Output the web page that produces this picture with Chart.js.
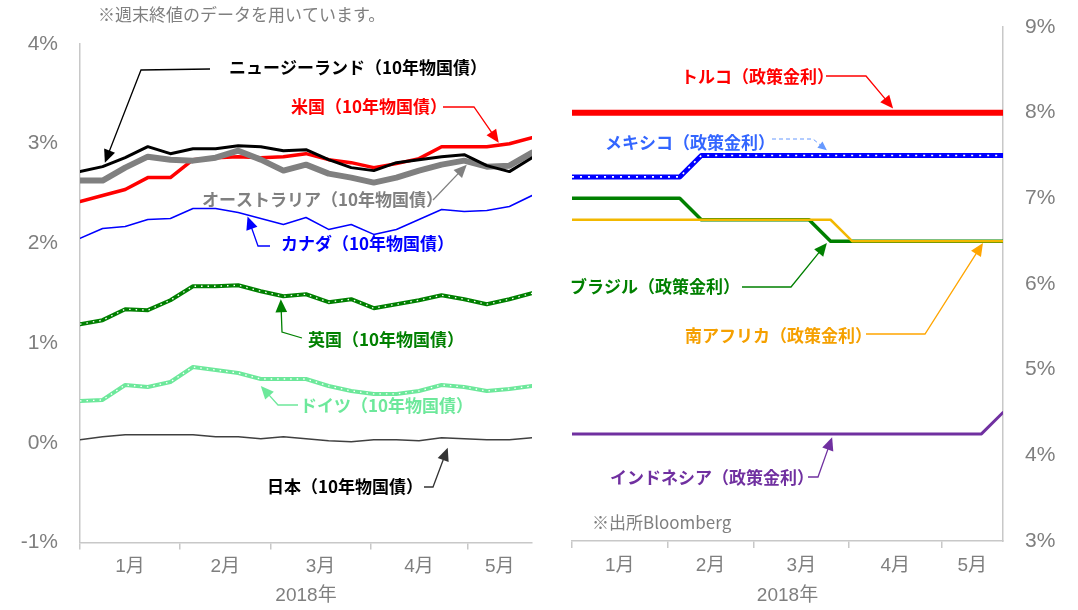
<!DOCTYPE html>
<html>
<head>
<meta charset="utf-8">
<script src="https://cdn.jsdelivr.net/npm/chart.js@4/dist/chart.umd.min.js"></script>
<style>
  body { margin: 0; background: #fff; }
  #wrap { position: relative; width: 1078px; height: 610px; }
  #wrap canvas { position: absolute; left: 0; top: 0; }
</style>
</head>
<body>
<div id="wrap">
  <canvas id="bondChart" width="1078" height="610"></canvas>
  <canvas id="rateChart" width="1078" height="610"></canvas>
</div>
<script>
// weekly closes
const weeks = ['2018-01-01','2018-01-08','2018-01-15','2018-01-22','2018-01-29','2018-02-05','2018-02-12',
  '2018-02-19','2018-02-26','2018-03-05','2018-03-12','2018-03-19','2018-03-26','2018-04-02','2018-04-09',
  '2018-04-16','2018-04-23','2018-04-30','2018-05-07','2018-05-14','2018-05-21'];
const monthStarts = ['2018-01-01','2018-02-01','2018-03-01','2018-04-01','2018-05-01'];
const monthLabels = ['1月','2月','3月','4月','5月'];
const yearLabel = '2018年';

// 10-year government bonds (%)
const nz = [2.72,2.77,2.86,2.97,2.90,2.95,2.95,2.98,2.97,2.93,2.94,2.84,2.76,2.73,2.81,2.84,2.87,2.89,2.78,2.72,2.86];
const us = [2.42,2.48,2.54,2.66,2.66,2.84,2.86,2.87,2.86,2.87,2.90,2.84,2.81,2.76,2.80,2.85,2.97,2.97,2.97,3.00,3.06];
const au = [2.63,2.63,2.76,2.87,2.84,2.83,2.86,2.93,2.84,2.73,2.79,2.70,2.66,2.61,2.66,2.73,2.79,2.83,2.77,2.78,2.91];
const ca = [2.05,2.15,2.17,2.24,2.25,2.35,2.35,2.31,2.25,2.19,2.26,2.14,2.19,2.09,2.14,2.24,2.34,2.32,2.33,2.37,2.48];
const uk = [1.19,1.23,1.34,1.33,1.43,1.57,1.57,1.58,1.52,1.47,1.49,1.41,1.44,1.35,1.39,1.43,1.48,1.44,1.39,1.44,1.50];
const de = [0.42,0.43,0.58,0.56,0.61,0.76,0.73,0.70,0.64,0.64,0.64,0.57,0.52,0.49,0.49,0.52,0.58,0.56,0.52,0.54,0.57];
const jp = [0.03,0.06,0.08,0.08,0.08,0.08,0.06,0.06,0.04,0.06,0.04,0.02,0.01,0.03,0.03,0.02,0.05,0.04,0.03,0.03,0.05];

// policy rates (%)
const tr = [8.00,8.00,8.00,8.00,8.00,8.00,8.00,8.00,8.00,8.00,8.00,8.00,8.00,8.00,8.00,8.00,8.00,8.00,8.00,8.00,8.00];
const mx = [7.25,7.25,7.25,7.25,7.25,7.25,7.50,7.50,7.50,7.50,7.50,7.50,7.50,7.50,7.50,7.50,7.50,7.50,7.50,7.50,7.50];
const br = [7.00,7.00,7.00,7.00,7.00,7.00,6.75,6.75,6.75,6.75,6.75,6.75,6.50,6.50,6.50,6.50,6.50,6.50,6.50,6.50,6.50];
const za = [6.75,6.75,6.75,6.75,6.75,6.75,6.75,6.75,6.75,6.75,6.75,6.75,6.75,6.50,6.50,6.50,6.50,6.50,6.50,6.50,6.50];
const idn = [4.25,4.25,4.25,4.25,4.25,4.25,4.25,4.25,4.25,4.25,4.25,4.25,4.25,4.25,4.25,4.25,4.25,4.25,4.25,4.25,4.50];

const FONT = "'Liberation Sans', 'Noto Sans CJK JP', sans-serif";
const JFONT = "'Noto Sans CJK JP', 'Liberation Sans', sans-serif";
const GREY = '#7F7F7F';
const AXIS = '#C8C8C8';

function dayOf(s) { return (Date.parse(s) - Date.parse(weeks[0])) / 86400000; }
const lastDay = dayOf(weeks[weeks.length - 1]);
const monthDays = monthStarts.map(dayOf);
const midDays = monthDays.map((d, i) => (d + (i + 1 < monthDays.length ? monthDays[i + 1] : lastDay)) / 2);

function series(values, color, width, extra) {
  return Object.assign({
    data: values.map((v, i) => ({ x: dayOf(weeks[i]), y: v })),
    borderColor: color, borderWidth: width,
    pointRadius: 0, tension: 0, fill: false,
    borderCapStyle: 'round', borderJoinStyle: 'round'
  }, extra || {});
}
// white dots running along a thick line
function dots(values, width, dash) {
  return series(values, '#FFFFFF', width, { borderDash: dash, borderCapStyle: 'butt' });
}

function xScales(labelHeight) {
  return {
    x: {
      type: 'linear', min: 0, max: lastDay, position: 'bottom',
      afterBuildTicks: s => { s.ticks = monthDays.map(v => ({ value: v })); },
      ticks: { display: false },
      grid: { drawOnChartArea: false, drawTicks: true, tickLength: 7, color: AXIS, lineWidth: 1.5 },
      border: { color: AXIS, width: 1.5 },
      afterFit: s => { s.height = 8; }
    },
    xm: {
      type: 'linear', axis: 'x', min: 0, max: lastDay, position: 'bottom',
      afterBuildTicks: s => { s.ticks = midDays.map(v => ({ value: v })); },
      ticks: { callback: (v, i) => monthLabels[i], font: { family: FONT, size: 19 }, color: GREY,
        padding: 5, maxRotation: 0, autoSkip: false },
      grid: { display: false, drawTicks: false },
      border: { display: false },
      title: { display: true, text: yearLabel, font: { family: FONT, size: 19 }, color: GREY,
        padding: { top: 0, bottom: 3 } },
      afterFit: s => { s.height = labelHeight; }
    }
  };
}

function yScale(pos, min, max, width) {
  return {
    position: pos, min: min, max: max,
    ticks: { stepSize: 1, callback: v => v + '%', font: { family: FONT, size: 21 }, color: GREY, padding: 22 },
    grid: { display: false, drawTicks: false },
    border: { color: AXIS, width: 1.5 },
    afterFit: s => { s.width = width; s.paddingTop = 0; s.paddingBottom = 0; }
  };
}

function callouts(items, notes) {
  return {
    id: 'callouts',
    afterDatasetsDraw(chart) {
      const ctx = chart.ctx;
      const xs = chart.scales.x, ys = chart.scales.y;
      items.forEach(c => {
        const tx = xs.getPixelForValue(c.tip[0]), ty = ys.getPixelForValue(c.tip[1]);
        const pts = c.path.concat([[tx, ty]]);
        const lc = c.line || c.color;
        ctx.save();
        ctx.strokeStyle = lc; ctx.fillStyle = lc; ctx.lineWidth = c.lw || 1.3;
        if (c.dash) ctx.setLineDash(c.dash);
        const [px, py] = pts[pts.length - 2];
        const ang = Math.atan2(ty - py, tx - px);
        const hl = c.head || 13;
        ctx.beginPath();
        ctx.moveTo(pts[0][0], pts[0][1]);
        for (let i = 1; i < pts.length - 1; i++) ctx.lineTo(pts[i][0], pts[i][1]);
        ctx.lineTo(tx - Math.cos(ang) * hl * 0.8, ty - Math.sin(ang) * hl * 0.8);
        ctx.stroke();
        ctx.setLineDash([]);
        ctx.beginPath();
        ctx.moveTo(tx, ty);
        ctx.lineTo(tx - Math.cos(ang) * hl + Math.sin(ang) * hl * 0.45, ty - Math.sin(ang) * hl - Math.cos(ang) * hl * 0.45);
        ctx.lineTo(tx - Math.cos(ang) * hl - Math.sin(ang) * hl * 0.45, ty - Math.sin(ang) * hl + Math.cos(ang) * hl * 0.45);
        ctx.closePath();
        ctx.fill();
        ctx.fillStyle = c.color;
        ctx.font = 'bold 17px ' + JFONT;
        ctx.textAlign = 'left';
        ctx.textBaseline = 'middle';
        ctx.fillText(c.text, c.at[0], c.at[1]);
        ctx.restore();
      });
      notes.forEach(n => {
        ctx.save();
        ctx.fillStyle = GREY;
        ctx.font = n.size + 'px ' + JFONT;
        ctx.textAlign = 'left';
        ctx.textBaseline = 'middle';
        ctx.fillText(n.text, n.at[0], n.at[1]);
        ctx.restore();
      });
    }
  };
}

// left panel: 10-year yields
const bondScales = xScales(59.5);
bondScales.y = yScale('left', -1, 4, 80);

new Chart(document.getElementById('bondChart'), {
  type: 'line',
  data: {
    datasets: [
      series(nz, '#000000', 3),
      series(au, '#808080', 6),
      series(us, '#FF0000', 3.5),
      series(ca, '#0000FF', 1.5),
      dots(uk, 1.3, [1.5, 5]),
      series(uk, '#008000', 4),
      dots(de, 1.3, [1.5, 5]),
      series(de, '#6DE89B', 4),
      series(jp, '#404040', 1.5)
    ]
  },
  options: {
    responsive: false, animation: false,
    layout: { padding: { left: 0, right: 546, top: 44, bottom: 0 } },
    plugins: { legend: { display: false }, tooltip: { enabled: false } },
    scales: bondScales
  },
  plugins: [callouts([
    { text: 'ニュージーランド（10年物国債）', color: '#000000', at: [229, 68], path: [[210, 69], [141, 70]], tip: [7.7, 2.81] },
    { text: '米国（10年物国債）', color: '#FF0000', at: [291, 107], path: [[443, 107], [474, 107]], tip: [129.7, 3.01] },
    { text: 'オーストラリア（10年物国債）', color: '#808080', at: [202, 200], path: [[433, 200]], tip: [119.8, 2.79] },
    { text: 'カナダ（10年物国債）', color: '#0000FF', at: [281, 244], path: [[270, 246], [258, 246]], tip: [51.9, 2.27] },
    { text: '英国（10年物国債）', color: '#008000', at: [308, 340], path: [[302, 338], [282, 332]], tip: [62.2, 1.44] },
    { text: 'ドイツ（10年物国債）', color: '#6DE89B', at: [300, 406], path: [[298, 405], [278, 405]], tip: [56, 0.57] },
    { text: '日本（10年物国債）', color: '#000000', line: '#333333', at: [267, 487], path: [[424, 487], [433, 487]], tip: [113.9, -0.05] }
  ], [
    { text: '※週末終値のデータを用いています。', at: [98, 15], size: 17 }
  ])]
});

// right panel: policy rates
const rateScales = xScales(61);
rateScales.y = yScale('right', 3, 9, 75);

new Chart(document.getElementById('rateChart'), {
  type: 'line',
  data: {
    datasets: [
      series(tr, '#FF0000', 6),
      dots(mx, 1.6, [2, 6]),
      series(mx, '#0000FF', 5),
      series(za, '#F2B800', 2.5),
      series(br, '#008000', 3.5),
      series(idn, '#7030A0', 3)
    ]
  },
  options: {
    responsive: false, animation: false,
    layout: { padding: { left: 572, right: 0, top: 27, bottom: 0 } },
    plugins: { legend: { display: false }, tooltip: { enabled: false } },
    scales: rateScales
  },
  plugins: [callouts([
    { text: 'トルコ（政策金利）', color: '#FF0000', at: [681, 77], path: [[826, 76], [866, 76]], tip: [104.3, 8.05] },
    { text: 'メキシコ（政策金利）', color: '#3366FF', line: '#6699FF', dash: [4, 3], lw: 1, head: 9, at: [605, 143], path: [[772, 139], [813, 139]], tip: [82.8, 7.56] },
    { text: 'ブラジル（政策金利）', color: '#008000', at: [570, 287], path: [[742, 287], [791, 287]], tip: [82.8, 6.48] },
    { text: '南アフリカ（政策金利）', color: '#F5A000', line: '#FFA500', at: [685, 336], path: [[866, 334], [925, 334]], tip: [133.5, 6.48] },
    { text: 'インドネシア（政策金利）', color: '#7030A0', at: [610, 478], path: [[808, 477], [818, 477]], tip: [84.5, 4.21] }
  ], [
    { text: '※出所Bloomberg', at: [592, 523], size: 17 }
  ])]
});
</script>
</body>
</html>
